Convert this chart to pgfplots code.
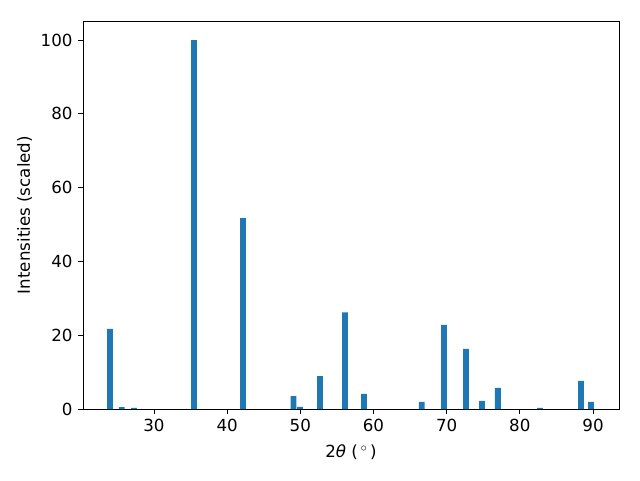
\documentclass[border=0pt]{standalone}
\usepackage{pgfplots}
\pgfplotsset{compat=1.18}
\usepackage{fontspec}
\setmainfont{DejaVu Sans}
\definecolor{mplblue}{HTML}{1F77B4}
\begin{document}
\fontsize{12.5pt}{15pt}\selectfont
\begin{tikzpicture}
\useasboundingbox (-62.25pt,-53.25pt) rectangle (417.75pt,306.75pt);
\begin{axis}[
  at={(0pt,0pt)}, anchor=south west,
  scale only axis, width=402pt, height=291pt,
  xmin=20.3, xmax=93.55, ymin=0, ymax=105.15,
  xtick={30,40,50,60,70,80,90},
  ytick={0,20,40,60,80,100},
  minor tick num=0,
  tick align=outside, tick pos=left,
  major tick length=3.5pt,
  every tick/.style={black, line width=0.6pt},
  axis line style={line width=0.6pt},
  /pgf/number format/assume math mode=true,
  ticklabel style={font=\fontsize{12.5pt}{15pt}\selectfont},
  label style={font=\fontsize{12.5pt}{15pt}\selectfont},
  xlabel={2{\itshape θ} (\,$^\circ$\,)},
  ylabel={Intensities (scaled)},
  xlabel style={yshift=-1pt},
  ylabel style={yshift=-2pt},
  ybar, bar width=0.8, bar shift=0pt,
]
\addplot[fill=mplblue, draw=none] coordinates {
(24.0,21.7) (25.6,0.5) (27.27,0.3) (35.47,100) (42.16,51.7)
(49.07,3.5) (49.95,0.6) (52.69,8.9) (56.1,26.2) (58.7,4.1)
(66.6,1.9) (69.63,22.8) (72.64,16.3) (74.83,2.2) (77.0,5.7)
(82.75,0.3) (88.36,7.6) (89.72,1.9)
};
\end{axis}
\end{tikzpicture}
\end{document}
